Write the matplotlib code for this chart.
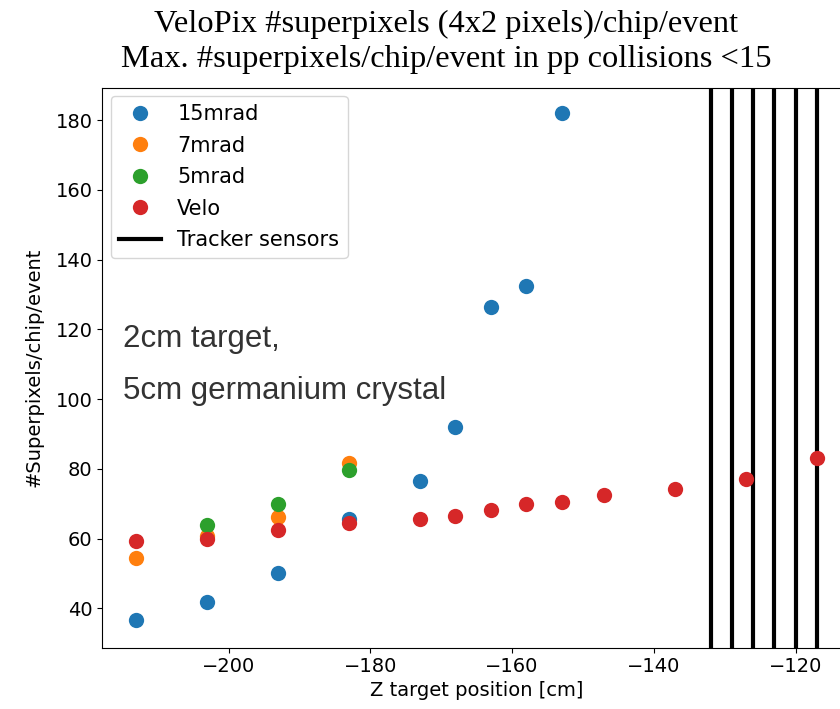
import matplotlib
matplotlib.use("Agg")
import matplotlib.pyplot as plt

# Data
z_15 = [-213, -203, -193, -183, -173, -168, -163, -158, -153]
v_15 = [36.6, 41.8, 50.0, 65.5, 76.5, 92.0, 126.4, 132.5, 181.9]
z_7 = [-213, -203, -193, -183]
v_7 = [54.3, 60.7, 66.2, 81.6]
z_5 = [-203, -193, -183]
v_5 = [64.0, 70.0, 79.6]
z_velo = [-213, -203, -193, -183, -173, -168, -163, -158, -153, -147, -137, -127, -117]
v_velo = [59.3, 60.0, 62.4, 64.5, 65.6, 66.6, 68.1, 69.8, 70.6, 72.6, 74.2, 77.1, 83.1]
tracker_z = [-132, -129, -126, -123, -120, -117]

labels = ["15mrad", "7mrad", "5mrad", "Velo", "Tracker sensors"]
colors = ["#1f77b4", "#ff7f0e", "#2ca02c", "#d62728"]

fig = plt.figure(figsize=(8.4, 7.09), dpi=100)
ax = fig.add_axes([102.3 / 840, 61.3 / 709, 748.7 / 840, 560.1 / 709])

for i, z in enumerate(tracker_z):
    ax.axvline(z, color="black", lw=3, zorder=1,
               label=labels[4] if i == 0 else None)

ms = 11
ax.plot(z_15, v_15, "o", color=colors[0], ms=ms, mec="none", label=labels[0], zorder=2)
ax.plot(z_7, v_7, "o", color=colors[1], ms=ms, mec="none", label=labels[1], zorder=2)
ax.plot(z_5, v_5, "o", color=colors[2], ms=ms, mec="none", label=labels[2], zorder=2)
ax.plot(z_velo, v_velo, "o", color=colors[3], ms=ms, mec="none", label=labels[3], zorder=2)

ax.set_xlim(-217.8, -112.2)
ax.set_ylim(28.7, 189.3)
ax.set_xticks([-200, -180, -160, -140, -120])
ax.set_yticks([40, 60, 80, 100, 120, 140, 160, 180])
ax.tick_params(labelsize=14)
ax.set_xlabel("Z target position [cm]", fontsize=14, labelpad=3)
ax.set_ylabel("#Superpixels/chip/event", fontsize=14, labelpad=9)

handles, labs = ax.get_legend_handles_labels()
order = [labs.index(l) for l in labels]
ax.legend([handles[i] for i in order], [labs[i] for i in order],
          loc="upper left", fontsize=15, borderaxespad=0.4, labelspacing=0.55)

fig.text(446 / 840, 1 - 42 / 709,
         "VeloPix #superpixels (4x2 pixels)/chip/event\nMax. #superpixels/chip/event in pp collisions <15",
         ha="center", va="center", fontsize=23.4, family="Liberation Serif",
         linespacing=1.3)

fig.text(123 / 840, 1 - 339 / 709, "2cm target,", fontsize=22.5,
         family="Liberation Sans", color="#333333", va="center", ha="left")
fig.text(123 / 840, 1 - 391 / 709, "5cm germanium crystal", fontsize=22.5,
         family="Liberation Sans", color="#333333", va="center", ha="left")

fig.savefig("out.png", dpi=100)
